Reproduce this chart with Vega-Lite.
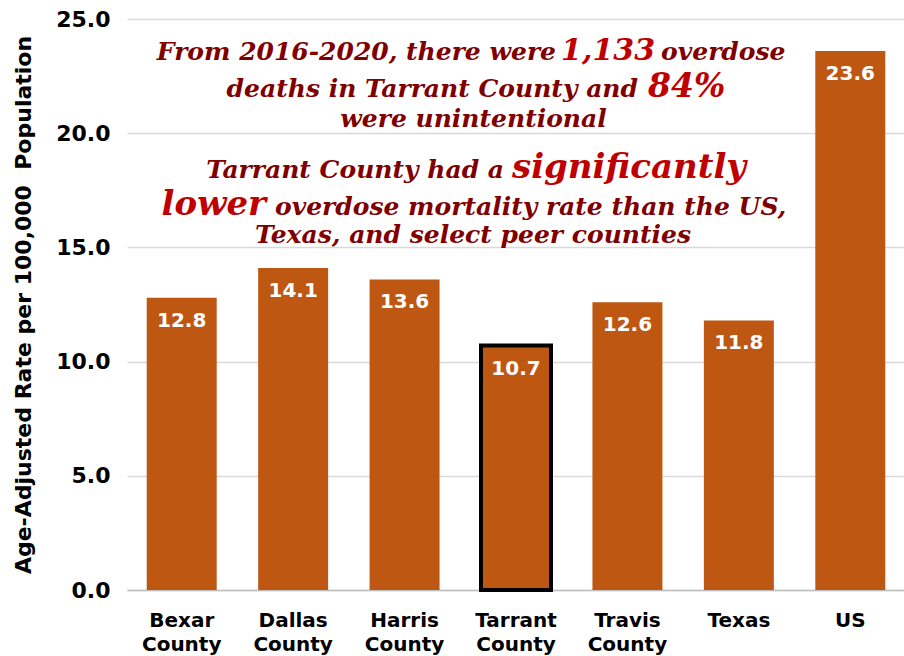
{
  "$schema": "https://vega.github.io/schema/vega-lite/v6.json",
  "width": 778,
  "height": 571,
  "autosize": "none",
  "padding": {"left": 127, "top": 19, "right": 0, "bottom": 66},
  "background": "white",
  "config": {
    "view": {"stroke": null},
    "text": {"font": "DejaVu Serif", "fontStyle": "italic", "fontWeight": "bold", "baseline": "alphabetic"}
  },
  "layer": [
    {
      "data": {
        "values": [
          {"region": "Bexar County", "rate": 12.8},
          {"region": "Dallas County", "rate": 14.1},
          {"region": "Harris County", "rate": 13.6},
          {"region": "Tarrant County", "rate": 10.7},
          {"region": "Travis County", "rate": 12.6},
          {"region": "Texas", "rate": 11.8},
          {"region": "US", "rate": 23.6}
        ]
      },
      "encoding": {
        "x": {
          "field": "region", "type": "nominal", "sort": null,
          "scale": {"paddingInner": 0.372, "paddingOuter": 0.177},
          "axis": {
            "title": null, "labelAngle": 0, "labelFont": "DejaVu Sans", "labelFontWeight": "bold",
            "labelFontSize": 20, "labelColor": "black", "labelPadding": 20, "labelLineHeight": 24,
            "labelExpr": "split(datum.label, ' ')", "ticks": false,
            "domainColor": "#BFBFBF", "domainWidth": 1.5, "labelBaseline": "top"
          }
        },
        "y": {
          "field": "rate", "type": "quantitative",
          "scale": {"domain": [0, 25], "nice": false},
          "axis": {
            "title": "Age-Adjusted Rate per 100,000\u00a0 Population",
            "titleFont": "DejaVu Sans", "titleFontWeight": "bold", "titleFontSize": 22, "titleColor": "black",
            "titlePadding": 20,
            "values": [0, 5, 10, 15, 20, 25], "format": ".1f",
            "labelFont": "DejaVu Sans", "labelFontWeight": "bold", "labelFontSize": 22, "labelColor": "black",
            "labelPadding": 17, "ticks": false, "domain": false,
            "gridColor": "#D9D9D9", "gridWidth": 1.5
          }
        }
      },
      "layer": [
        {
          "mark": {"type": "bar", "color": "#BE5712", "stroke": "black"},
          "encoding": {
            "strokeWidth": {"condition": {"test": "datum.region === 'Tarrant County'", "value": 4}, "value": 0}
          }
        },
        {
          "mark": {"type": "text", "font": "DejaVu Sans", "fontStyle": "normal", "fontWeight": "bold", "fontSize": 20, "color": "white", "baseline": "middle", "dy": 23},
          "encoding": {"text": {"field": "rate", "type": "quantitative", "format": ".1f"}}
        }
      ]
    },
    {
      "data": {"values": [{}]},
      "layer": [
        {
          "mark": {"type": "text", "fontSize": 25, "color": "#800000", "align": "right"},
          "encoding": {
            "x": {"datum": 55.14, "type": "quantitative", "scale": {"domain": [0, 100]}, "axis": null},
            "y": {"datum": 23.2, "type": "quantitative", "scale": {"domain": [0, 25]}, "axis": null},
            "text": {"value": "From 2016-2020, there were"}
          }
        },
        {
          "mark": {"type": "text", "fontSize": 30, "color": "#C00000", "align": "center"},
          "encoding": {
            "x": {"datum": 61.83, "type": "quantitative", "scale": {"domain": [0, 100]}, "axis": null},
            "y": {"datum": 23.2, "type": "quantitative", "scale": {"domain": [0, 25]}, "axis": null},
            "text": {"value": "1,133"}
          }
        },
        {
          "mark": {"type": "text", "fontSize": 25, "color": "#800000", "align": "left"},
          "encoding": {
            "x": {"datum": 68.64, "type": "quantitative", "scale": {"domain": [0, 100]}, "axis": null},
            "y": {"datum": 23.2, "type": "quantitative", "scale": {"domain": [0, 25]}, "axis": null},
            "text": {"value": "overdose"}
          }
        },
        {
          "mark": {"type": "text", "fontSize": 25, "color": "#800000", "align": "right"},
          "encoding": {
            "x": {"datum": 65.68, "type": "quantitative", "scale": {"domain": [0, 100]}, "axis": null},
            "y": {"datum": 21.59, "type": "quantitative", "scale": {"domain": [0, 25]}, "axis": null},
            "text": {"value": "deaths in Tarrant County and"}
          }
        },
        {
          "mark": {"type": "text", "fontSize": 33, "color": "#C00000", "align": "left"},
          "encoding": {
            "x": {"datum": 66.97, "type": "quantitative", "scale": {"domain": [0, 100]}, "axis": null},
            "y": {"datum": 21.59, "type": "quantitative", "scale": {"domain": [0, 25]}, "axis": null},
            "text": {"value": "84%"}
          }
        },
        {
          "mark": {"type": "text", "fontSize": 25, "color": "#800000", "align": "center"},
          "encoding": {
            "x": {"datum": 44.54, "type": "quantitative", "scale": {"domain": [0, 100]}, "axis": null},
            "y": {"datum": 20.27, "type": "quantitative", "scale": {"domain": [0, 25]}, "axis": null},
            "text": {"value": "were unintentional"}
          }
        },
        {
          "mark": {"type": "text", "fontSize": 25, "color": "#800000", "align": "right"},
          "encoding": {
            "x": {"datum": 48.46, "type": "quantitative", "scale": {"domain": [0, 100]}, "axis": null},
            "y": {"datum": 18.04, "type": "quantitative", "scale": {"domain": [0, 25]}, "axis": null},
            "text": {"value": "Tarrant County had a"}
          }
        },
        {
          "mark": {"type": "text", "fontSize": 34, "color": "#C00000", "align": "left"},
          "encoding": {
            "x": {"datum": 49.49, "type": "quantitative", "scale": {"domain": [0, 100]}, "axis": null},
            "y": {"datum": 18.04, "type": "quantitative", "scale": {"domain": [0, 25]}, "axis": null},
            "text": {"value": "significantly"}
          }
        },
        {
          "mark": {"type": "text", "fontSize": 34, "color": "#C00000", "align": "right"},
          "encoding": {
            "x": {"datum": 17.87, "type": "quantitative", "scale": {"domain": [0, 100]}, "axis": null},
            "y": {"datum": 16.42, "type": "quantitative", "scale": {"domain": [0, 25]}, "axis": null},
            "text": {"value": "lower"}
          }
        },
        {
          "mark": {"type": "text", "fontSize": 25, "color": "#800000", "align": "left"},
          "encoding": {
            "x": {"datum": 19.02, "type": "quantitative", "scale": {"domain": [0, 100]}, "axis": null},
            "y": {"datum": 16.42, "type": "quantitative", "scale": {"domain": [0, 25]}, "axis": null},
            "text": {"value": "overdose mortality rate than the US,"}
          }
        },
        {
          "mark": {"type": "text", "fontSize": 25, "color": "#800000", "align": "center"},
          "encoding": {
            "x": {"datum": 44.47, "type": "quantitative", "scale": {"domain": [0, 100]}, "axis": null},
            "y": {"datum": 15.19, "type": "quantitative", "scale": {"domain": [0, 25]}, "axis": null},
            "text": {"value": "Texas, and select peer counties"}
          }
        }
      ]
    }
  ],
  "resolve": {"scale": {"x": "independent", "y": "independent"}}
}
